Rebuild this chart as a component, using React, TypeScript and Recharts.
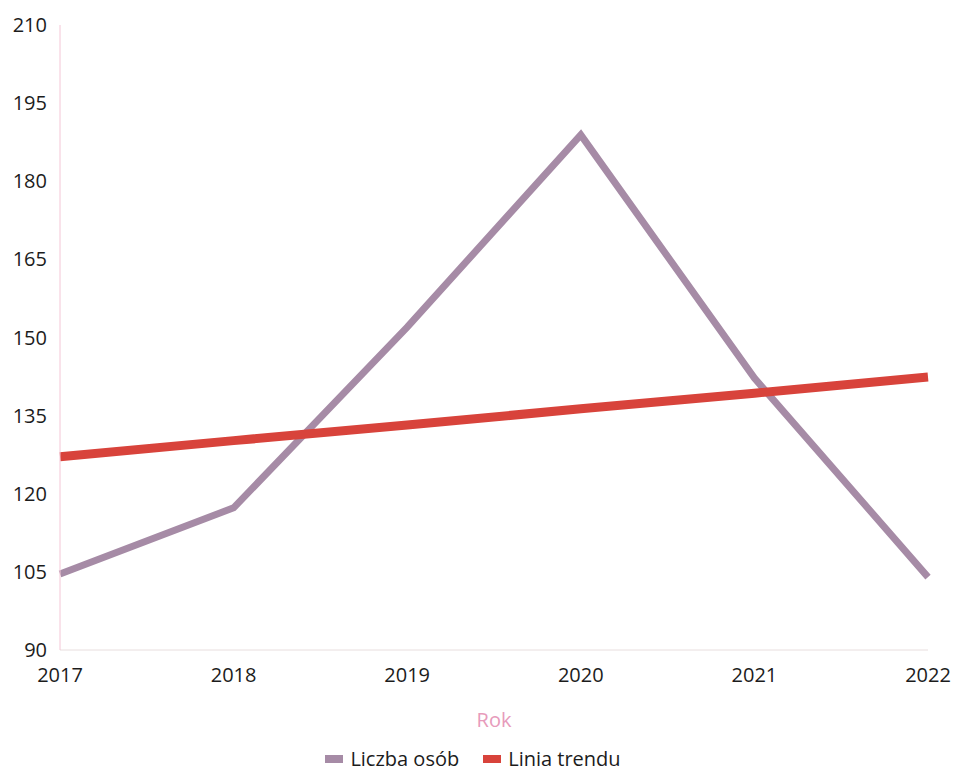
import { LineChart, Line, XAxis, YAxis, Legend } from "recharts";

const years = ["2017", "2018", "2019", "2020", "2021", "2022"];
const liczbaOsob = [104.6, 117.3, 152, 188.9, 142.2, 104];
const liniaTrendu = [127.1, 130.2, 133.2, 136.3, 139.3, 142.4];
const yTicks = [90, 105, 120, 135, 150, 165, 180, 195, 210];

const purple = "#a68ba6";
const red = "#d8433b";
const font = "'Open Sans', 'Noto Sans', sans-serif";
const tickStyle = { fontSize: 20, fill: "#1c1c1c", fontFamily: font };

const data = years.map((year, i) => ({
  year,
  count: liczbaOsob[i],
  trend: liniaTrendu[i],
}));

const legendItems = [
  { name: "Liczba osób", color: purple },
  { name: "Linia trendu", color: red },
];

function LegendContent() {
  return (
    <div style={{ display: "flex", justifyContent: "center", gap: 24, height: 18, lineHeight: "18px", alignItems: "center", fontFamily: font, fontSize: 20, color: "#1c1c1c", paddingLeft: 10 }}>
      {legendItems.map((item) => (
        <div key={item.name} style={{ display: "flex", alignItems: "center", gap: 7 }}>
          <span style={{ display: "inline-block", width: 18, height: 8, background: item.color }} />
          <span>{item.name}</span>
        </div>
      ))}
    </div>
  );
}

export default function App() {
  return (
    <>
      <style>{"html, body { margin: 0; overflow: hidden; }"}</style>
      <LineChart width={954} height={774} data={data} margin={{ top: 25, right: 26, left: 8, bottom: 6 }}>
        <XAxis
          dataKey="year"
          tick={tickStyle}
          tickLine={false}
          tickMargin={12}
          height={100}
          stroke="#e8dede"
          label={{ value: "Rok", position: "insideBottom", offset: 23, fill: "#e79bbb", fontSize: 20, fontFamily: font }}
        />
        <YAxis
          domain={[90, 210]}
          ticks={yTicks}
          tick={tickStyle}
          tickLine={false}
          tickMargin={7}
          width={52}
          stroke="#f4c6d6"
          interval={0}
        />
        <Legend verticalAlign="bottom" content={<LegendContent />} />
        <Line type="linear" dataKey="count" name="Liczba osób" stroke={purple} strokeWidth={7} dot={false} isAnimationActive={false} />
        <Line type="linear" dataKey="trend" name="Linia trendu" stroke={red} strokeWidth={9} dot={false} isAnimationActive={false} />
      </LineChart>
    </>
  );
}
